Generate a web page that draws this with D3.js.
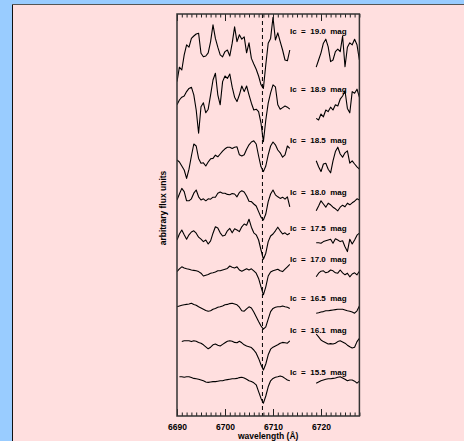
<!DOCTYPE html>
<html>
<head>
<meta charset="utf-8">
<script src="https://cdn.jsdelivr.net/npm/d3@7"></script>
<style>
  html, body { margin: 0; padding: 0; background: #99ccff; overflow: hidden; }
  text { font-family: "Liberation Sans", Arial, sans-serif; font-weight: bold; fill: #000; }
</style>
</head>
<body>
<script>
// wavelength grids (Angstrom) of the two spectral pieces
const wlLeft = [6690,6690.5,6691,6691.5,6692,6692.5,6693,6693.5,6694,6694.5,6695,6695.5,6696,6696.5,6697,6697.5,6698,6698.5,6699,6699.5,6700,6700.5,6701,6701.5,6702,6702.5,6703,6703.5,6704,6704.5,6705,6705.5,6706,6706.5,6707,6707.5,6708,6708.5,6709,6709.5,6710,6710.5,6711,6711.5,6712,6712.5,6713,6713.5]
const wlRight = [6719,6719.5,6720,6720.5,6721,6721.5,6722,6722.5,6723,6723.5,6724,6724.5,6725,6725.5,6726,6726.5,6727,6727.5,6728]

const mags = ["19.0", "18.9", "18.5", "18.0", "17.5", "17.0", "16.5", "16.1", "15.5"]
// where each "Ic = .. mag" label sits, in flux units
const labelLevels = [96.3, 81.8, 69, 56, 47, 39.3, 29.5, 21.5, 11]

// flux (arbitrary units, offsets included)
const l190 = [83.6,87.2,86.5,90.3,92.8,92.2,94.4,95,95.5,95.7,90.7,89.8,90,90.8,93.6,97.8,94.4,92.2,90.3,89.8,91.1,91.5,90,93.2,97.3,93.6,95.3,94.2,94.8,90.8,93.3,89.4,88,86.7,85,82.8,81.9,87.8,93.2,94.4,99.7,94,95.8,93.6,91.5,89,88.8,91.5]
const r190 = [87.2,89,90.8,93.2,94.2,92.3,88.6,89,91.1,91.7,91.1,95,87.3,92.2,93.3,92.8,94.2,92.8,89]
const l189 = [77.8,79,79.7,80,81.1,81.9,82.2,80.3,76.5,70.7,77.3,78.3,75.8,76.7,80.3,84,85.7,80.3,77.8,83.6,85,84.4,85.5,82.2,79.7,78.6,80.3,82.5,81.1,82.5,80.3,78.2,76.5,76.7,76.1,73.2,68.6,74,78.2,80.8,82.8,82.3,77.8,76.7,77.1,77.5,77.2,76.7]
const r189 = [74.4,74,75.5,74.8,76.5,76.1,77.2,76.5,77.8,77.5,79.2,80,81.3,76.9,75.8,81.1,80.7,81.7,79.7]
const l185 = [64,63.5,62.5,61.5,59.4,61.7,65,68,67.5,64.4,63.2,63.3,62.5,63.5,64.3,64.4,65.2,64.8,65.5,66.2,66.8,67.2,67.2,66.9,67.2,67.3,65.3,65,65.3,66.7,67.8,68.5,68.8,68,65,62.3,61.1,62.5,65.3,67.5,68.5,67.8,66.5,65.8,64.7,65.3,67.5,66.9]
const r185 = [63.8,62.3,61.1,63,63.2,61.7,60.8,63.8,66.1,67.2,65.5,64.7,65.8,66.3,63.2,63.8,63,62.3,61.7]
const l180 = [54,55.5,56.9,56.1,53.8,53.8,54.3,55.7,56.5,54.8,54,54.3,53.8,54.3,54.2,54.7,54.7,55.7,56,55.7,55.7,55.4,55.3,55.6,55.5,54.8,55.9,56.3,56,55,53.7,53.6,53,52.5,51.1,49.7,49,50.5,53.6,55.5,56.5,55.3,54.8,54.4,54.7,54.2,54.8,52.3]
const r180 = [51.3,52.5,53.8,53,52.2,53.2,52.8,52.2,51.8,51.3,52.2,52.7,52.3,53.2,52.8,53.3,53.7,54.3,54]
const l175 = [44,45.5,46.5,45.3,44.2,45.3,46,46.3,45.7,44.7,44.2,43.6,44,43,43.8,45.7,47.3,47,45.8,45,45.2,46.3,46.9,45.8,46.8,46.5,46.1,47.3,48,47.7,49.2,47.2,45.8,45.3,44,41.5,39.2,40.7,43.6,45,45.5,46.3,47.2,46.3,45.5,45.8,45.3,45.7]
const r175 = [43.3,43.3,43.2,43.6,43.8,44,44.2,43.2,44.3,44,43.6,43.8,42.3,41.1,44.2,43,44,45.2,45.7]
const l170 = [36.1,36.8,37.3,37,36.8,36.7,36.5,36.4,36.3,36.1,35.7,35,35.2,35.4,35.7,35.8,36,36.3,36.3,36.5,36.7,36.9,37.5,37.2,37,37.3,36.5,36.2,36.5,36.8,36.5,36.8,36.3,35.7,34.4,32.3,30.3,32.3,35,36,36.3,36.5,36.7,36.3,36.1,36.7,37.3,37.9]
const r170 = [34.8,35.7,36.2,36.3,35.8,36,36.5,36.3,35.8,35.7,36.5,35.8,35.3,35.7,34.8,35.5,35.8,35.3,36.2]
const l165 = [27.3,27.5,27.7,27.8,27.9,28,28.2,27.9,27.7,27.3,27,26.7,26.4,26.2,26.3,26.7,26.9,27.2,27.3,27.5,27.8,27.9,28.1,28.2,28,27.8,27.2,26.3,26.2,26.8,27.3,27,26,24.8,23.6,22.5,21.7,22.3,24.2,26.1,26.9,27.2,27.3,27.3,27.5,27.3,27.2,26.9]
const r165 = [25.7,25.8,26,26.1,26.3,26.3,26.4,26.5,26.6,26.7,26.7,26.7,26.5,26.3,26.2,26,25.7,26.3,27.5]
const l161 = [null,null,18.6,18.8,18.8,18.8,18.6,18.8,18.7,18.4,18.2,17.8,17.3,16.8,17.2,17.8,18,17.7,17.5,17.9,18.3,18.7,18.8,18.7,18.4,18.3,18.7,18.3,17.8,17.5,17.3,17.1,16.5,15.7,14.4,12.8,11.5,13,15.3,16.7,17.2,17.5,17.8,18.2,18.4,18.3,18.2,18.8]
const r161 = [20.5,19.8,19,18.6,18.3,18,18.1,18,18.2,18.6,18.8,18.5,18.2,17.7,17.3,17,17.2,18.6,19.4]
const l155 = [null,9.8,9.8,9.7,9.8,9.8,9.6,9.4,9.3,9.2,9,8.8,8.5,8.4,8.5,8.6,8.6,8.7,8.8,8.8,9,9.1,9.2,9.3,9.3,9.4,9.6,9.7,9.5,9.2,8.8,8.6,8.3,7.8,6.1,4.4,3.2,5,7.3,8.8,9.4,9.7,9.8,10,9.8,9.4,9,8.8]
const r155 = [8.2,8.5,8.8,9,9.2,9.3,9.3,9.4,9.5,9.7,9.8,9.5,9.2,8.8,9,9,8.7,8.2,8.7]

const liLine = 6707.8
const xTicks = [6690, 6700, 6710, 6720]

const lefts = [l190, l189, l185, l180, l175, l170, l165, l161, l155]
const rights = [r190, r189, r185, r180, r175, r170, r165, r161, r155]
const spectra = mags.map((m, i) => ({ mag: m, left: lefts[i], right: rights[i], level: labelLevels[i] }))

const W = 464, H = 441
const frame = { left: 177, top: 14, right: 359.4, bottom: 416 }

const svg = d3.select("body")
    .append("svg")
    .attr("width", W)
    .attr("height", H)

// pink panel with dark top/left edge
svg.append("rect")
    .attr("x", 13).attr("y", 5)
    .attr("width", W).attr("height", H)
    .attr("fill", "#ffdfdf")
svg.append("line").attr("x1", 12.5).attr("x2", 12.5).attr("y1", 5).attr("y2", H)
    .attr("stroke", "#111").attr("stroke-width", 1)
svg.append("line").attr("x1", 12).attr("x2", W).attr("y1", 4.5).attr("y2", 4.5)
    .attr("stroke", "#555").attr("stroke-width", 1)

const x = d3.scaleLinear()
    .domain([6690, 6728])
    .range([frame.left, frame.right])

const y = d3.scaleLinear()
    .domain([0, 100.5])
    .range([frame.bottom, frame.top])

svg.append("clipPath").attr("id", "clip")
    .append("rect")
    .attr("x", frame.left).attr("y", frame.top)
    .attr("width", frame.right - frame.left).attr("height", frame.bottom - frame.top)

const plot = svg.append("g").attr("clip-path", "url(#clip)")

const line = d3.line()
    .defined(d => d[1] != null)
    .x(d => x(d[0]))
    .y(d => y(d[1]))

spectra.forEach(s => {
    plot.append("path")
        .datum(wlLeft.map((w, i) => [w, s.left[i]]))
        .attr("d", line)
        .attr("fill", "none")
        .attr("stroke", "#000")
        .attr("stroke-width", 1.1)
        .attr("stroke-linejoin", "round")
    plot.append("path")
        .datum(wlRight.map((w, i) => [w, s.right[i]]))
        .attr("d", line)
        .attr("fill", "none")
        .attr("stroke", "#000")
        .attr("stroke-width", 1.1)
        .attr("stroke-linejoin", "round")
})

// Li 6708 marker
plot.append("line")
    .attr("x1", x(liLine)).attr("x2", x(liLine))
    .attr("y1", frame.top).attr("y2", frame.bottom)
    .attr("stroke", "#000")
    .attr("stroke-width", 1)
    .attr("stroke-dasharray", "4,3")

svg.selectAll(".maglabel")
    .data(spectra)
    .enter()
    .append("text")
    .attr("class", "maglabel")
    .attr("x", 290)
    .attr("y", d => y(d.level) + 3)
    .attr("font-size", "8px")
    .style("white-space", "pre")
    .text(d => "Ic  =  " + d.mag + "  mag")

// axes: minor ticks every 1 A, major every 10 A
const minor = d3.range(6690, 6729, 1)
const axB = svg.append("g").attr("transform", `translate(0,${frame.bottom})`)
axB.call(d3.axisBottom(x).tickValues(minor).tickSize(-3.5).tickFormat(""))
axB.append("g").call(d3.axisBottom(x).tickValues(xTicks).tickSize(-7).tickPadding(8).tickFormat(d3.format("d")))
const axT = svg.append("g").attr("transform", `translate(0,${frame.top})`)
axT.call(d3.axisTop(x).tickValues(minor).tickSize(-3.5).tickFormat(""))
axT.append("g").call(d3.axisTop(x).tickValues(xTicks).tickSize(-7).tickFormat(""))

svg.selectAll(".domain").remove()
svg.selectAll(".tick line").attr("stroke", "#222")
svg.selectAll(".tick text")
    .attr("font-size", "8.5px")
    .attr("font-family", "Liberation Sans, Arial, sans-serif")
    .attr("font-weight", "bold")

svg.append("rect")
    .attr("x", frame.left).attr("y", frame.top)
    .attr("width", frame.right - frame.left).attr("height", frame.bottom - frame.top)
    .attr("fill", "none")
    .attr("stroke", "#333")
    .attr("stroke-width", 1.5)

svg.append("text")
    .attr("x", (frame.left + frame.right) / 2)
    .attr("y", 439)
    .attr("text-anchor", "middle")
    .attr("font-size", "8.5px")
    .text("wavelength (Å)")

svg.append("text")
    .attr("transform", "translate(166,208) rotate(-90)")
    .attr("text-anchor", "middle")
    .attr("font-size", "8.5px")
    .text("arbitrary flux units")
</script>
</body>
</html>
